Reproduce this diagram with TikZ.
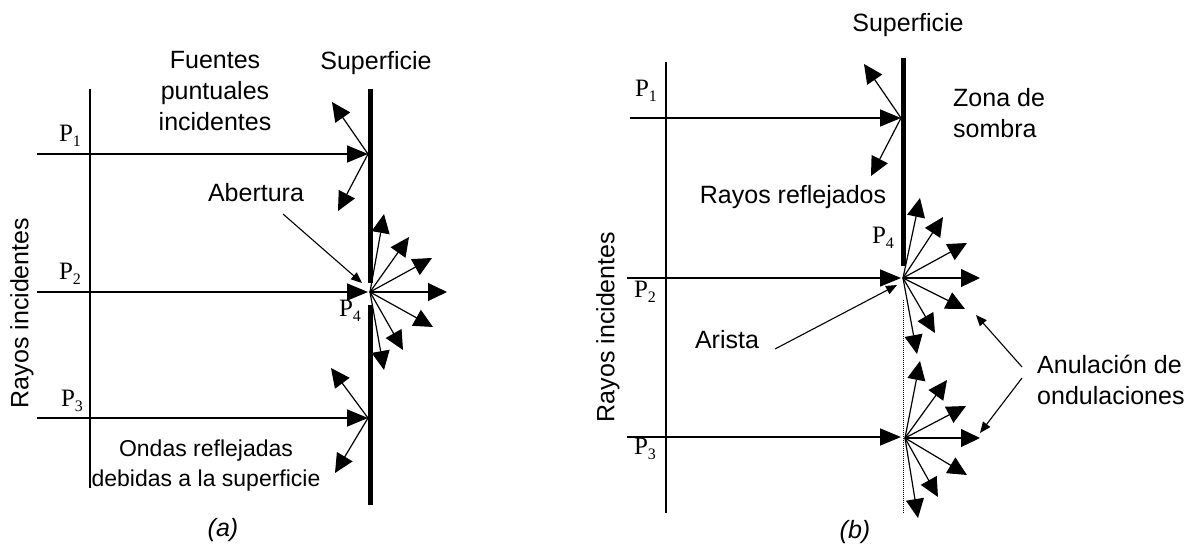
\documentclass[tikz,border=0pt]{standalone}
\usepackage{fontspec}
\setmainfont{Liberation Sans}
\newfontfamily\serifP{Liberation Serif}
\usetikzlibrary{arrows.meta}
\newcommand{\Plab}[1]{{\serifP\fontsize{25}{25}\selectfont P\raisebox{-5pt}{\fontsize{16}{16}\selectfont #1}}}
\begin{document}
\begin{tikzpicture}[x=1pt,y=-1pt,
  txt/.style={font=\fontsize{25}{31}\selectfont, inner sep=0pt, align=center},
  plab/.style={inner sep=0pt},
  axis/.style={line width=1.5pt},
  surf/.style={line width=5pt},
  inc/.style={line width=1.6pt, -{Triangle[length=21pt,width=17pt]}},
  refl/.style={line width=1.2pt, -{Triangle[length=19pt,width=18pt]}},
  ptr/.style={line width=1.1pt, -{Triangle[length=11pt,width=9pt]}}
]
\useasboundingbox (0,0) rectangle (1195,549);

% ================= panel (a) =================
\coordinate (axAt) at (90,89);
\coordinate (axAb) at (90,488);
\draw[axis] (axAt) -- (axAb);

\coordinate (sAt) at (370,89);
\coordinate (sAg1) at (370,283);
\coordinate (sAg2) at (370,305);
\coordinate (sAb) at (370,505);
\draw[surf] (sAt) -- (sAg1);
\draw[surf] (sAg2) -- (sAb);

\coordinate (a1s) at (37,154);
\coordinate (a1e) at (368,154);
\coordinate (a2s) at (37,292);
\coordinate (a2e) at (368,292);
\coordinate (a3s) at (37,418);
\coordinate (a3e) at (368,418);
\draw[inc] (a1s) -- (a1e);
\draw[inc] (a2s) -- (a2e);
\draw[inc] (a3s) -- (a3e);

\node[plab] (pa1) at (70,136) {\Plab{1}};
\node[plab] (pa2) at (70,274) {\Plab{2}};
\node[plab] (pa3) at (72,401) {\Plab{3}};
\node[plab] (pa4) at (350,311) {\Plab{4}};

% reflections at P1, P3
\coordinate (a1u) at (332,102);
\coordinate (a1d) at (338,211);
\coordinate (a3u) at (331,368);
\coordinate (a3d) at (335,473);
\draw[refl] (a1e) -- (a1u);
\draw[refl] (a1e) -- (a1d);
\draw[refl] (a3e) -- (a3u);
\draw[refl] (a3e) -- (a3d);

% fan at P4 (aperture)
\coordinate (cA) at (370,292);
\coordinate (fa1) at (384,214);
\coordinate (fa2) at (409,237);
\coordinate (fa3) at (432,258);
\coordinate (fa4) at (447,292);
\coordinate (fa5) at (433,327);
\coordinate (fa6) at (403,350);
\coordinate (fa7) at (384,370);
\foreach \k in {1,...,7} \draw[refl] (cA) -- (fa\k);

\node[txt] (supA) at (376,63) {Superficie};
\node[txt] (fuentes) at (215,91) {Fuentes\\puntuales\\incidentes};
\node[txt] (abertura) at (256,193) {Abertura};
\coordinate (abS) at (283,214);
\coordinate (abE) at (362,283);
\draw[ptr] (abS) -- (abE);
\node[txt, font=\fontsize{23}{30}\selectfont] (ondas) at (206,466) {Ondas reflejadas\\debidas a la superficie};
\node[txt, rotate=90] (rayosA) at (22,313) {Rayos incidentes};
\node[txt, font=\fontsize{25}{31}\selectfont\itshape] (capA) at (223,530) {(a)};

% ================= panel (b) =================
\coordinate (axBt) at (666,62);
\coordinate (axBb) at (666,513);
\draw[axis] (axBt) -- (axBb);

\coordinate (sBt) at (903,58);
\coordinate (sBb) at (903,266);
\draw[surf] (sBt) -- (sBb);
\coordinate (dBt) at (903,300);
\coordinate (dBb) at (903,513);
\draw[line width=1pt, densely dotted] (dBt) -- (dBb);

\coordinate (b1s) at (630,118);
\coordinate (b1e) at (901,118);
\coordinate (b2s) at (627,278);
\coordinate (b2e) at (901,278);
\coordinate (b3s) at (627,437);
\coordinate (b3e) at (901,437);
\draw[inc] (b1s) -- (b1e);
\draw[inc] (b2s) -- (b2e);
\draw[inc] (b3s) -- (b3e);

\node[plab] (pb1) at (646,91) {\Plab{1}};
\node[plab] (pb2) at (645,292) {\Plab{2}};
\node[plab] (pb3) at (645,449) {\Plab{3}};
\node[plab] (pb4) at (883,238) {\Plab{4}};

\coordinate (b1u) at (864,64);
\coordinate (b1d) at (871,176);
\draw[refl] (b1e) -- (b1u);
\draw[refl] (b1e) -- (b1d);

% fan at P2 (edge)
\coordinate (cB2) at (903,278);
\coordinate (fb1) at (920,198);
\coordinate (fb2) at (943,217);
\coordinate (fb3) at (967,243);
\coordinate (fb4) at (980,278);
\coordinate (fb5) at (965,309);
\coordinate (fb6) at (935,333);
\coordinate (fb7) at (917,354);
\foreach \k in {1,...,7} \draw[refl] (cB2) -- (fb\k);

% fan at P3
\coordinate (cB3) at (905,438);
\coordinate (fc1) at (920,361);
\coordinate (fc2) at (947,380);
\coordinate (fc3) at (966,406);
\coordinate (fc4) at (980,438);
\coordinate (fc5) at (967,475);
\coordinate (fc6) at (938,497);
\coordinate (fc7) at (918,518);
\foreach \k in {1,...,7} \draw[refl] (cB3) -- (fc\k);

\node[txt] (supB) at (908,25) {Superficie};
\node[txt, align=left, anchor=west] (zona) at (953,113) {Zona de\\sombra};
\node[txt] (reflej) at (793,197) {Rayos reflejados};
\node[txt] (arista) at (727,340) {Arista};
\coordinate (arS) at (775,349);
\coordinate (arE) at (897,285);
\draw[ptr] (arS) -- (arE);
\node[txt, align=left, anchor=west] (anul) at (1037,380) {Anulación de\\ondulaciones};
\coordinate (anS1) at (1022,367);
\coordinate (anE1) at (976,315);
\coordinate (anS2) at (1022,378);
\coordinate (anE2) at (980,433);
\draw[ptr] (anS1) -- (anE1);
\draw[ptr] (anS2) -- (anE2);
\node[txt, rotate=90] (rayosB) at (608,327) {Rayos incidentes};
\node[txt, font=\fontsize{25}{31}\selectfont\itshape] (capB) at (855,532) {(b)};
\end{tikzpicture}
\end{document}
